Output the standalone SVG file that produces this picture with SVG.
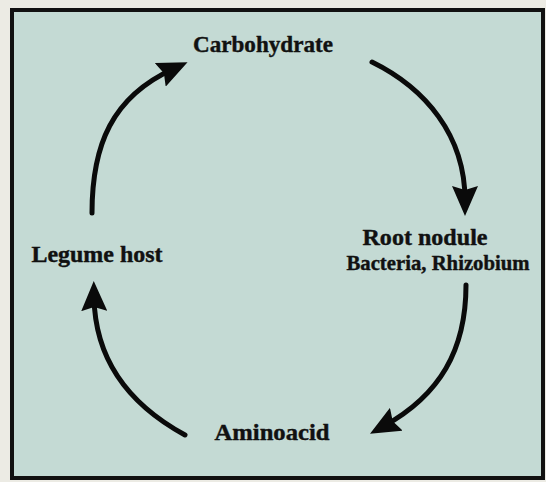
<svg xmlns="http://www.w3.org/2000/svg" width="546" height="482" viewBox="0 0 546 482">
  <style>
    .lbl { font-family: "Liberation Serif", "Times New Roman", serif; font-weight: bold; font-size: 23px; fill: #111; stroke: #111; stroke-width: 0.4; text-anchor: middle; }
    .sm { font-size: 21px; }
    .conn { fill: none; stroke: #0a0a0a; stroke-width: 5; stroke-linecap: round; }
  </style>
  <defs>
    <marker id="ah" markerUnits="userSpaceOnUse" viewBox="0 0 30 26" markerWidth="30" markerHeight="26" refX="14" refY="13" orient="auto">
      <path d="M0,0 L30,13 L0,26 L4,13 Z" fill="#0a0a0a"/>
    </marker>
  </defs>
  <rect x="0" y="0" width="546" height="482" fill="#ecebe4"/>
  <rect x="12" y="10" width="531" height="468" fill="#c4dad4" stroke="#111" stroke-width="4"/>

  <g id="connectors">
    <path class="conn" d="M92,213 C92,145 112,97 173,69" marker-end="url(#ah)"/>
    <path class="conn" d="M372,62 C425,88 465,135 465,200" marker-end="url(#ah)"/>
    <path class="conn" d="M466,285 C466,350 440,395 384,426" marker-end="url(#ah)"/>
    <path class="conn" d="M185,435 C130,405 95,360 94,297" marker-end="url(#ah)"/>
  </g>

  <g id="carbohydrate">
    <text class="lbl" x="263" y="52" textLength="140" lengthAdjust="spacingAndGlyphs">Carbohydrate</text>
  </g>
  <g id="root-nodule">
    <text class="lbl" x="425" y="245" textLength="125" lengthAdjust="spacingAndGlyphs">Root nodule</text>
    <text class="lbl sm" x="438" y="270" textLength="183" lengthAdjust="spacingAndGlyphs">Bacteria, Rhizobium</text>
  </g>
  <g id="aminoacid">
    <text class="lbl" x="272" y="440" textLength="115" lengthAdjust="spacingAndGlyphs">Aminoacid</text>
  </g>
  <g id="legume-host">
    <text class="lbl" x="97" y="262" textLength="131" lengthAdjust="spacingAndGlyphs">Legume host</text>
  </g>
</svg>
